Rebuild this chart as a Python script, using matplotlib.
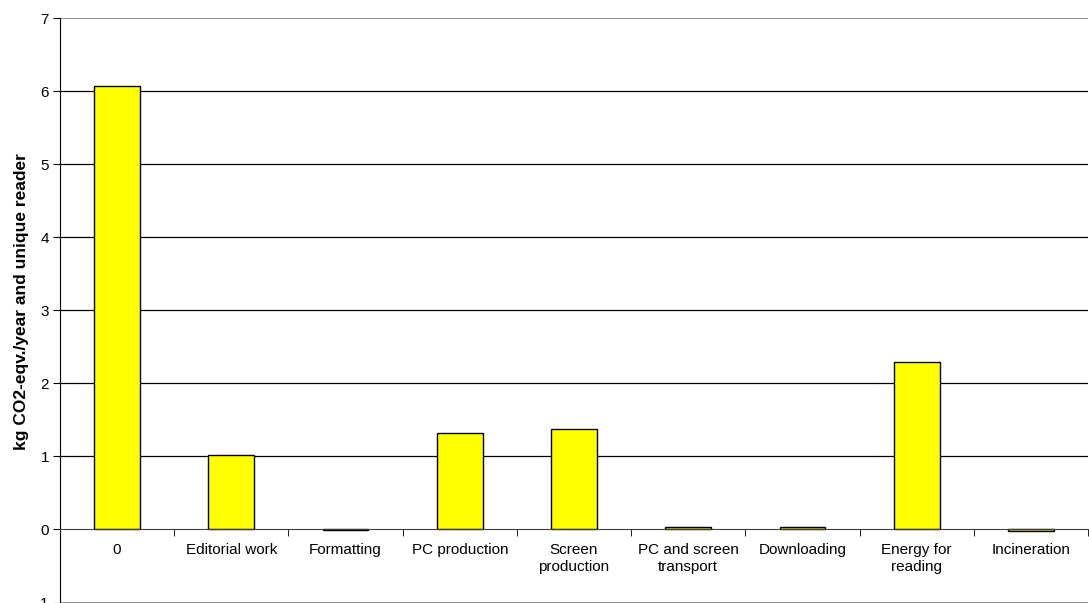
import numpy as np
import matplotlib
matplotlib.use("Agg")
import matplotlib.pyplot as plt

plt.rcParams["font.family"] = ["Liberation Sans", "DejaVu Sans"]

categories = ["0", "Editorial work", "Formatting", "PC production", "Screen\nproduction",
              "PC and screen\ntransport", "Downloading", "Energy for\nreading", "Incineration"]
values = [6.07, 1.02, -0.01, 1.32, 1.37, 0.03, 0.03, 2.29, -0.02]
y_ticks = [-1, 0, 1, 2, 3, 4, 5, 6, 7]

fig = plt.figure(figsize=(10.89, 6.03), dpi=100)
ax = fig.add_axes([60 / 1089, 0.5 / 603, 1 - 61 / 1089, (602.5 - 18) / 603])

x = np.arange(len(categories))
ax.bar(x, values, width=0.4, color="#FFFF00", edgecolor="black", linewidth=1.0, zorder=3)

ax.set_xlim(-0.5, len(categories) - 0.5)
ax.set_ylim(-1, 7)
ax.set_yticks(y_ticks)
ax.set_yticklabels([str(v) for v in y_ticks], fontsize=11)

for v in range(1, 7):
    ax.axhline(v, color="black", linewidth=0.9, zorder=1)
ax.axhline(7, color="#808080", linewidth=1.2, zorder=1)
ax.axhline(-1, color="#808080", linewidth=1.2, zorder=1)

ax.spines["top"].set_visible(False)
ax.spines["right"].set_visible(False)
ax.spines["bottom"].set_position(("data", 0))
ax.spines["bottom"].set_color("#404040")
ax.spines["bottom"].set_zorder(4)

ax.set_xticks(x)
ax.set_xticklabels(categories, fontsize=11, linespacing=1.25)
ax.set_xticks(np.arange(-0.5, len(categories) + 0.5, 1), minor=True)
ax.tick_params(axis="x", which="major", length=0, pad=10)
ax.tick_params(axis="x", which="minor", length=5, direction="out", color="black")
ax.tick_params(axis="y", length=5, direction="out", pad=3)

ax.set_ylabel("kg CO2-eqv./year and unique reader", fontsize=12.5, fontweight="bold")
ax.yaxis.set_label_coords(-0.03, 0.515)

plt.savefig("out.png", dpi=100)
plt.close(fig)
